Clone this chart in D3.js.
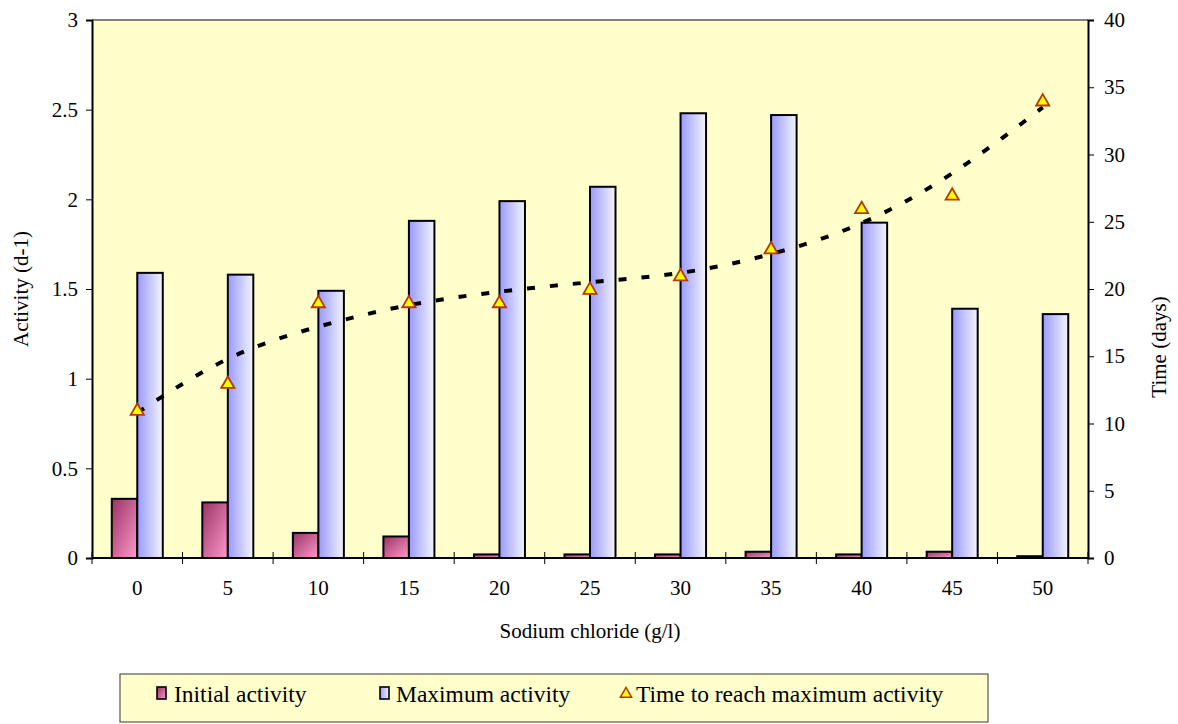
<!DOCTYPE html>
<html>
<head>
<meta charset="utf-8">
<script src="https://cdn.jsdelivr.net/npm/d3@7/dist/d3.min.js"></script>
<style>
  html, body { margin: 0; padding: 0; background: #ffffff; }
  svg { display: block; }
</style>
</head>
<body>
<svg id="chart" width="1178" height="724"></svg>
<script>
// Sodium chloride concentration (g/l)
const categories = ["0", "5", "10", "15", "20", "25", "30", "35", "40", "45", "50"];
// Activity (d-1)
const initialActivity = [0.33, 0.31, 0.14, 0.12, 0.02, 0.02, 0.02, 0.035, 0.02, 0.035, 0.01];
const maximumActivity = [1.59, 1.58, 1.49, 1.88, 1.99, 2.07, 2.48, 2.47, 1.87, 1.39, 1.36];
// Time to reach maximum activity (days)
const timeToMax = [11, 13, 19, 19, 19, 20, 21, 23, 26, 27, 34];
// Fitted trend of the time series (days)
const timeTrend = [10.8, 14.8, 17.2, 18.8, 19.8, 20.5, 21.2, 22.6, 24.9, 28.6, 33.5];

const activityTicks = [0, 0.5, 1, 1.5, 2, 2.5, 3];
const timeTicks = [0, 5, 10, 15, 20, 25, 30, 35, 40];

const seriesNames = ["Initial activity", "Maximum activity", "Time to reach maximum activity"];

const FONT = "'Liberation Serif', Tinos, 'Times New Roman', 'DejaVu Serif', serif";

const svg = d3.select("#chart");
const plot = { left: 92, right: 1088, top: 20, bottom: 558 };

const x = d3.scaleBand().domain(categories).range([plot.left, plot.right]).padding(0);
const xs = d3.scaleBand().domain(["initial", "maximum"]).range([0, x.bandwidth()])
  .paddingInner(0).paddingOuter(0.775);
const yL = d3.scaleLinear().domain([0, 3]).range([plot.bottom, plot.top]);
const yR = d3.scaleLinear().domain([0, 40]).range([plot.bottom, plot.top]);

// Gradients for the two bar series
const defs = svg.append("defs");
const gPink = defs.append("linearGradient").attr("id", "gradInitial")
  .attr("x1", 0).attr("y1", 0).attr("x2", 1).attr("y2", 1);
gPink.append("stop").attr("offset", "0%").attr("stop-color", "#993366");
gPink.append("stop").attr("offset", "100%").attr("stop-color", "#ff99cc");

const gBlue = defs.append("linearGradient").attr("id", "gradMaximum")
  .attr("x1", 0).attr("y1", 0).attr("x2", 1).attr("y2", 0);
gBlue.append("stop").attr("offset", "0%").attr("stop-color", "#9999ff");
gBlue.append("stop").attr("offset", "100%").attr("stop-color", "#f4f4ff");

// Plot background
svg.append("rect")
  .attr("x", plot.left).attr("y", plot.top)
  .attr("width", plot.right - plot.left).attr("height", plot.bottom - plot.top)
  .attr("fill", "#ffffcc");
svg.append("line")
  .attr("x1", plot.left).attr("x2", plot.right)
  .attr("y1", plot.top).attr("y2", plot.top)
  .attr("stroke", "#808080").attr("stroke-width", 2);

// Bars
const bars = svg.append("g");
bars.selectAll("rect.initial").data(categories).join("rect")
  .attr("class", "initial")
  .attr("x", (c) => x(c) + xs("initial"))
  .attr("width", xs.bandwidth())
  .attr("y", (c, i) => yL(initialActivity[i]))
  .attr("height", (c, i) => yL(0) - yL(initialActivity[i]))
  .attr("fill", "url(#gradInitial)")
  .attr("stroke", "#000").attr("stroke-width", 2);

bars.selectAll("rect.maximum").data(categories).join("rect")
  .attr("class", "maximum")
  .attr("x", (c) => x(c) + xs("maximum"))
  .attr("width", xs.bandwidth())
  .attr("y", (c, i) => yL(maximumActivity[i]))
  .attr("height", (c, i) => yL(0) - yL(maximumActivity[i]))
  .attr("fill", "url(#gradMaximum)")
  .attr("stroke", "#000").attr("stroke-width", 2);

// Left axis
const axL = svg.append("g")
  .attr("transform", `translate(${plot.left},0)`)
  .call(d3.axisLeft(yL).tickValues(activityTicks).tickSize(6).tickPadding(8).tickFormat((d) => String(d)));
// Right axis
const axR = svg.append("g")
  .attr("transform", `translate(${plot.right},0)`)
  .call(d3.axisRight(yR).tickValues(timeTicks).tickSize(6).tickPadding(10).tickFormat((d) => String(d)));
// Bottom axis: labels at category centres, ticks on category boundaries
const axB = svg.append("g")
  .attr("transform", `translate(0,${plot.bottom})`)
  .call(d3.axisBottom(x).tickSize(0).tickPadding(22));
const boundaries = categories.map((c) => x(c)).concat([x(categories[categories.length - 1]) + x.bandwidth()]);
axB.selectAll("line.boundary").data(boundaries).join("line")
  .attr("class", "boundary")
  .attr("x1", (d) => d).attr("x2", (d) => d)
  .attr("y1", -6).attr("y2", 6)
  .attr("stroke", "#000").attr("stroke-width", 1);

[axL, axR, axB].forEach((g) => {
  g.attr("font-family", null).attr("font-size", null);
  g.select(".domain").attr("stroke", "#000").attr("stroke-width", 2);
  g.selectAll(".tick line").attr("stroke", "#000").attr("stroke-width", 1);
  g.selectAll("text").style("font-family", FONT).style("font-size", "21px").attr("fill", "#000");
});
axB.select(".domain").attr("d", `M${plot.left},0H${plot.right}`);

// Axis titles
const titleStyle = (sel) => sel.style("font-family", FONT).style("font-size", "21px").attr("fill", "#000");
svg.append("text")
  .attr("x", (plot.left + plot.right) / 2).attr("y", 638)
  .attr("text-anchor", "middle")
  .call(titleStyle)
  .text("Sodium chloride (g/l)");
svg.append("text")
  .attr("transform", `translate(28,${(plot.top + plot.bottom) / 2}) rotate(-90)`)
  .attr("text-anchor", "middle")
  .call(titleStyle)
  .text("Activity (d-1)");
svg.append("text")
  .attr("transform", `translate(1166,${(plot.top + plot.bottom) / 2 + 58}) rotate(-90)`)
  .attr("text-anchor", "middle")
  .call(titleStyle)
  .text("Time (days)");

// Trend of time to maximum activity
const trendLine = d3.line()
  .x((d, i) => x(categories[i]) + x.bandwidth() / 2)
  .y((d) => yR(d))
  .curve(d3.curveNatural);
svg.append("path")
  .datum(timeTrend)
  .attr("d", trendLine)
  .attr("fill", "none")
  .attr("stroke", "#000")
  .attr("stroke-width", 4)
  .attr("stroke-dasharray", "8,15");

// Triangle markers
const tri = d3.symbol().type(d3.symbolTriangle).size(75);
svg.append("g").selectAll("path").data(timeToMax).join("path")
  .attr("transform", (d, i) => `translate(${x(categories[i]) + x.bandwidth() / 2},${yR(d) + 1})`)
  .attr("d", tri)
  .attr("fill", "#ffff00")
  .attr("stroke", "#b33a00")
  .attr("stroke-width", 1.8);

// Legend
const legend = svg.append("g");
legend.append("rect")
  .attr("x", 120).attr("y", 674).attr("width", 868).attr("height", 48)
  .attr("fill", "#ffffcc").attr("stroke", "#555").attr("stroke-width", 1.2);

const legendItems = [
  { name: seriesNames[0], mx: 157, tx: 174, kind: "initial" },
  { name: seriesNames[1], mx: 380, tx: 396, kind: "maximum" },
  { name: seriesNames[2], mx: 626, tx: 636, kind: "time" }
];
legendItems.forEach((it) => {
  if (it.kind === "time") {
    legend.append("path")
      .attr("transform", `translate(${it.mx},${694})`)
      .attr("d", d3.symbol().type(d3.symbolTriangle).size(55)())
      .attr("fill", "#ffff00").attr("stroke", "#b33a00").attr("stroke-width", 1.5);
  } else {
    legend.append("rect")
      .attr("x", it.mx).attr("y", 687).attr("width", 9).attr("height", 12)
      .attr("fill", it.kind === "initial" ? "url(#gradInitial)" : "url(#gradMaximum)")
      .attr("stroke", "#000").attr("stroke-width", 1.6);
  }
  legend.append("text")
    .attr("x", it.tx).attr("y", 702)
    .style("font-family", FONT).style("font-size", "23.5px").attr("fill", "#000")
    .text(it.name);
});
</script>
</body>
</html>
